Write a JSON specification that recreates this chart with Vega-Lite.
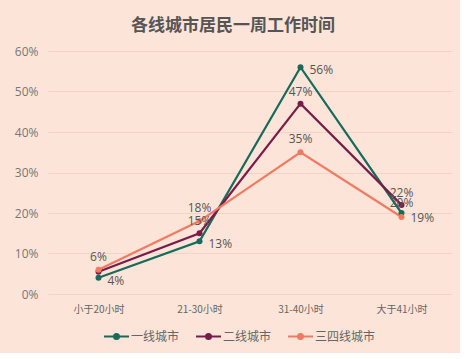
{
  "$schema": "https://vega.github.io/schema/vega-lite/v6.json",
  "autosize": {"type": "none"},
  "width": 404,
  "height": 243,
  "padding": {"left": 48, "top": 51, "right": 8, "bottom": 59},
  "background": "#fde4d9",
  "title": {
    "text": "各线城市居民一周工作时间",
    "fontSize": 17,
    "fontWeight": "bold",
    "color": "#555555",
    "font": "Noto Sans CJK SC",
    "offset": 10,
    "dx": -17
  },
  "data": {
    "values": [
      {"城市": "一线城市", "时间": "小于20小时", "占比": 0.04},
      {"城市": "一线城市", "时间": "21-30小时", "占比": 0.13},
      {"城市": "一线城市", "时间": "31-40小时", "占比": 0.56},
      {"城市": "一线城市", "时间": "大于41小时", "占比": 0.20},
      {"城市": "二线城市", "时间": "小于20小时", "占比": 0.055},
      {"城市": "二线城市", "时间": "21-30小时", "占比": 0.15},
      {"城市": "二线城市", "时间": "31-40小时", "占比": 0.47},
      {"城市": "二线城市", "时间": "大于41小时", "占比": 0.22},
      {"城市": "三四线城市", "时间": "小于20小时", "占比": 0.06},
      {"城市": "三四线城市", "时间": "21-30小时", "占比": 0.18},
      {"城市": "三四线城市", "时间": "31-40小时", "占比": 0.35},
      {"城市": "三四线城市", "时间": "大于41小时", "占比": 0.19}
    ]
  },
  "encoding": {
    "x": {
      "field": "时间",
      "type": "nominal",
      "sort": ["小于20小时", "21-30小时", "31-40小时", "大于41小时"],
      "scale": {"type": "point", "padding": 0.5},
      "axis": {
        "title": null,
        "labelAngle": 0,
        "labelFontSize": 10,
        "labelColor": "#666666",
        "labelPadding": 10,
        "domain": false,
        "ticks": false,
        "grid": false,
        "labelFont": "Noto Sans CJK SC"
      }
    },
    "y": {
      "field": "占比",
      "type": "quantitative",
      "scale": {"domain": [0, 0.6]},
      "axis": {
        "title": null,
        "format": ".0%",
        "values": [0, 0.1, 0.2, 0.3, 0.4, 0.5, 0.6],
        "labelOverlap": false,
        "labelFontSize": 12,
        "labelColor": "#777777",
        "labelPadding": 10,
        "domain": false,
        "ticks": false,
        "gridColor": "#f2d3c6",
        "gridWidth": 1.2,
        "labelFont": "Open Sans"
      }
    },
    "color": {
      "field": "城市",
      "type": "nominal",
      "sort": ["一线城市", "二线城市", "三四线城市"],
      "scale": {
        "domain": ["一线城市", "二线城市", "三四线城市"],
        "range": ["#176b5b", "#7a1c4a", "#f07b62"]
      },
      "legend": {
        "title": null,
        "orient": "none",
        "legendX": 55,
        "legendY": 272,
        "direction": "horizontal",
        "labelFontSize": 12,
        "labelColor": "#666666",
        "labelFont": "Noto Sans CJK SC",
        "symbolType": "M-1,0L1,0M-0.2,0A0.2,0.2 0 1,1 0.2,0A0.2,0.2 0 1,1 -0.2,0Z",
        "symbolSize": 625,
        "symbolStrokeWidth": 2,
        "columnPadding": 12,
        "labelOffset": 1
      }
    }
  },
  "layer": [
    {"mark": {"type": "line", "strokeWidth": 2.2}},
    {"mark": {"type": "point", "filled": true, "size": 36, "opacity": 1}},
    {
      "transform": [{"filter": "datum['城市'] == '一线城市' && datum['时间'] != '大于41小时'"}],
      "mark": {"type": "text", "align": "left", "dx": 9, "dy": 3, "fontSize": 12, "font": "Open Sans"},
      "encoding": {"text": {"field": "占比", "type": "quantitative", "format": ".0%"}, "color": {"value": "#555555"}}
    },
    {
      "transform": [{"filter": "datum['城市'] == '一线城市' && datum['时间'] == '大于41小时'"}],
      "mark": {"type": "text", "align": "center", "dy": -10, "fontSize": 12, "font": "Open Sans"},
      "encoding": {"text": {"field": "占比", "type": "quantitative", "format": ".0%"}, "color": {"value": "#555555"}}
    },
    {
      "transform": [{"filter": "datum['城市'] == '二线城市' && datum['时间'] != '小于20小时'"}],
      "mark": {"type": "text", "align": "center", "dy": -12, "fontSize": 12, "font": "Open Sans"},
      "encoding": {"text": {"field": "占比", "type": "quantitative", "format": ".0%"}, "color": {"value": "#555555"}}
    },
    {
      "transform": [{"filter": "datum['城市'] == '三四线城市' && datum['时间'] != '大于41小时'"}],
      "mark": {"type": "text", "align": "center", "dy": -13, "fontSize": 12, "font": "Open Sans"},
      "encoding": {"text": {"field": "占比", "type": "quantitative", "format": ".0%"}, "color": {"value": "#555555"}}
    },
    {
      "transform": [{"filter": "datum['城市'] == '三四线城市' && datum['时间'] == '大于41小时'"}],
      "mark": {"type": "text", "align": "left", "dx": 9, "dy": 1, "fontSize": 12, "font": "Open Sans"},
      "encoding": {"text": {"field": "占比", "type": "quantitative", "format": ".0%"}, "color": {"value": "#555555"}}
    }
  ],
  "config": {"view": {"stroke": null}}
}
